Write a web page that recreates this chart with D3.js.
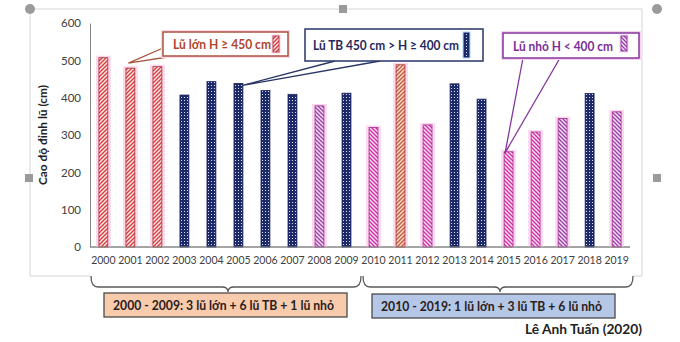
<!DOCTYPE html>
<html><head><meta charset="utf-8">
<script src="https://cdn.jsdelivr.net/npm/d3@7/dist/d3.min.js"></script>
<style>html,body{margin:0;padding:0;background:#fff;}svg{display:block;}</style>
</head><body><svg id="c" width="680" height="342"></svg>
<script>
// ---- data ----
const years = ["2000","2001","2002","2003","2004","2005","2006","2007","2008","2009",
               "2010","2011","2012","2013","2014","2015","2016","2017","2018","2019"];
const peaks = [507,479,483,407,443,438,419,409,378,412,
               320,488,327,437,396,255,308,344,411,362];
const floodClass = ["big","big","big","mid","mid","mid","mid","mid","small","mid",
                    "small","big","small","mid","mid","small","small","small","mid","small"];
const yTicks = [0,100,200,300,400,500,600];
const yTitle = "Cao độ đỉnh lũ (cm)";
const legendTexts = ["Lũ lớn H ≥ 450 cm","Lũ TB 450 cm > H ≥ 400 cm","Lũ nhỏ H < 400 cm"];
const summaryTexts = ["2000 - 2009:  3 lũ lớn + 6 lũ TB + 1 lũ nhỏ","2010 - 2019:  1 lũ lớn + 3 lũ TB + 6 lũ nhỏ"];
const credit = "Lê Anh Tuấn (2020)";

// ---- styles ----
const FONT = "Lato, 'Open Sans', sans-serif";
const svg = d3.select("#c");
const defs = svg.append("defs");
function hatch(id, bg, fg, dir){
  const p = defs.append("pattern").attr("id",id).attr("patternUnits","userSpaceOnUse").attr("width",4).attr("height",4);
  p.append("rect").attr("width",4).attr("height",4).attr("fill",bg);
  p.append("path").attr("d", dir==="/" ? "M-1,1 l2,-2 M0,4 l4,-4 M3,5 l2,-2" : "M-1,3 l2,2 M0,0 l4,4 M3,-1 l2,2")
    .attr("stroke",fg).attr("stroke-width",1.3);
}
hatch("pBig","#fde6e6","#d83a3a","/");
hatch("pBigO","#f9dccc","#c9583a","/");
hatch("pSmall","#fde2f5","#d22aa6","\\");
hatch("pSmallP","#f3e2f6","#9c3aa8","\\");
const pd = defs.append("pattern").attr("id","pMid").attr("patternUnits","userSpaceOnUse").attr("width",3).attr("height",3);
pd.append("rect").attr("width",3).attr("height",3).attr("fill","#1d2a6a");
pd.append("rect").attr("x",1).attr("y",1).attr("width",1).attr("height",1).attr("fill","#d8defa");

const fillOf = (c,yr) => c==="mid" ? "url(#pMid)" : c==="big" ? (yr==="2011"?"url(#pBigO)":"url(#pBig)")
                : (["2008","2017","2019"].includes(yr) ? "url(#pSmallP)" : "url(#pSmall)");
const strokeOf = c => c==="mid" ? "#18205a" : c==="big" ? "#a83030" : "#a52a8c";

// ---- frame (selection box) ----
svg.append("path").attr("d","M90,276 H30 V9 H642 V276 H633").attr("fill","none").attr("stroke","#d4d4d4").attr("stroke-width",1);
[[30,9],[657,9]].forEach(p=>svg.append("circle").attr("cx",p[0]).attr("cy",p[1]).attr("r",5).attr("fill","#9a9a9a"));
[[343,9],[29,178],[657,178]].forEach(p=>svg.append("rect").attr("x",p[0]-4).attr("y",p[1]-4).attr("width",8).attr("height",8).attr("fill","#9a9a9a"));

// ---- scales ----
const x = d3.scaleBand().domain(years).range([90,630]).paddingInner(0.67).paddingOuter(0.33);
const y = d3.scaleLinear().domain([0,600]).range([247,23]);

function squeeze(sel, target){
  const w = sel.node().getComputedTextLength();
  if (w > target) sel.attr("textLength",target).attr("lengthAdjust","spacingAndGlyphs");
  else sel.attr("font-size", parseFloat(sel.attr("font-size"))*Math.min(target/w,1.15));
}

// axes
const yAx = svg.append("g").attr("transform","translate(90,0)")
  .call(d3.axisLeft(y).tickValues(yTicks).tickSize(0).tickPadding(9));
yAx.select(".domain").attr("stroke","#868686");
yAx.selectAll("text").attr("font-family",FONT).attr("font-size",11.5).attr("fill","#404040");
const xAx = svg.append("g").attr("transform","translate(0,247)")
  .call(d3.axisBottom(x).tickSize(0).tickPadding(10));
xAx.select(".domain").attr("stroke","#868686").attr("d","M90,0H630");
xAx.selectAll("text").attr("font-family",FONT).attr("font-size",10.5).attr("fill","#404040");

const yt = svg.append("text").attr("transform","translate(47,135) rotate(-90)").attr("text-anchor","middle")
  .attr("font-family",FONT).attr("font-weight","bold").attr("font-size",12).attr("fill","#222").text(yTitle);
squeeze(yt,100);

// bars
const rows = years.map((yr,i)=>({yr, v:peaks[i], c:floodClass[i]}));
svg.append("g").selectAll("rect").data(rows.filter(d=>d.c!=="mid")).join("rect")
  .attr("x",d=>x(d.yr)-3).attr("width",x.bandwidth()+6)
  .attr("y",d=>y(d.v)-2).attr("height",d=>y(0)-y(d.v)+2).attr("fill","#fcd9f0");
svg.append("g").selectAll("rect").data(rows).join("rect")
  .attr("x",d=>x(d.yr)).attr("width",x.bandwidth())
  .attr("y",d=>y(d.v)).attr("height",d=>y(0)-y(d.v))
  .attr("fill",d=>fillOf(d.c,d.yr)).attr("stroke",d=>strokeOf(d.c)).attr("stroke-width",0.8);
svg.append("line").attr("x1",90).attr("x2",630).attr("y1",247).attr("y2",247).attr("stroke","#868686");

// ---- callouts ----
function callout(o){
  const g = svg.append("g");
  g.append("path").attr("d",`M${o.t1[0]},${o.t1[1]} L${o.tip[0]},${o.tip[1]} L${o.t2[0]},${o.t2[1]}`)
    .attr("fill","none").attr("stroke",o.stroke).attr("stroke-width",1.3);
  if(o.glow) g.append("rect").attr("x",o.x).attr("y",o.y).attr("width",o.w).attr("height",o.h)
    .attr("fill","none").attr("stroke",o.glow).attr("stroke-width",4);
  g.append("rect").attr("x",o.x).attr("y",o.y).attr("width",o.w).attr("height",o.h)
    .attr("fill","#fff").attr("stroke",o.stroke).attr("stroke-width",1.5);
  const t = g.append("text").attr("x",o.tx).attr("y",o.y+o.h/2+5).attr("font-family",FONT)
    .attr("font-weight","bold").attr("font-size",14).attr("fill",o.color).text(o.text);
  squeeze(t,o.tw);
  if(o.swGlow) g.append("rect").attr("x",o.sx-1.5).attr("y",o.sy-1.5).attr("width",o.sw+3).attr("height",o.sh+3).attr("fill",o.swGlow);
  g.append("rect").attr("x",o.sx).attr("y",o.sy).attr("width",o.sw).attr("height",o.sh)
    .attr("fill",o.fill).attr("stroke",o.swStroke).attr("stroke-width",0.8);
}
callout({x:163,y:32,w:125,h:24,stroke:"#a8553c",glow:"#fbd6ec",color:"#b0452e",text:legendTexts[0],tx:173,tw:98,
  sx:273,sy:36,sw:6,sh:16,fill:"url(#pBig)",swStroke:"#a83030",swGlow:"#fcd0ea",
  t1:[163,48],t2:[174,56],tip:[x("2001")+x.bandwidth()/2-2,y(peaks[1])-5]});
callout({x:305,y:29,w:178,h:32,stroke:"#283465",color:"#1f2a5c",text:legendTexts[1],tx:313,tw:146,
  sx:464,sy:33,sw:5,sh:24,fill:"url(#pMid)",swStroke:"#18205a",swGlow:"#a8d2f5",
  t1:[335,61],t2:[380,61],tip:[x("2005")+x.bandwidth()/2+4,y(peaks[5])+2]});
callout({x:503,y:33,w:136,h:25,stroke:"#86359e",glow:"#f6d3ef",color:"#7a2f96",text:legendTexts[2],tx:513,tw:100,
  sx:621,sy:36,sw:6,sh:15,fill:"url(#pSmallP)",swStroke:"#7a2f96",swGlow:"#fad2ef",
  t1:[523,58],t2:[560,58],tip:[x("2015")+1,y(peaks[15])+1]});

// ---- braces & summary boxes ----
function brace(x0,x1,xm){
  const y0=276,y1=287,y2=292;
  svg.append("path").attr("d",`M${x0},${y0} Q${x0},${y1} ${x0+7},${y1} L${xm-6},${y1} Q${xm},${y1} ${xm},${y2} Q${xm},${y1} ${xm+6},${y1} L${x1-7},${y1} Q${x1},${y1} ${x1},${y0}`)
    .attr("fill","none").attr("stroke","#5a5a5a").attr("stroke-width",1.3);
}
brace(x.range()[0]+1, 361, 228);
brace(363, x.range()[1]+3, 500);
function sumBox(bx,by,bw,bh,fill,txt,tw){
  svg.append("rect").attr("x",bx).attr("y",by).attr("width",bw).attr("height",bh)
    .attr("fill",fill).attr("stroke","#4a4a4a").attr("stroke-width",1.3);
  const t = svg.append("text").attr("x",bx+9).attr("y",by+bh/2+5).attr("font-family",FONT)
    .attr("font-weight","bold").attr("font-size",14).attr("fill","#2a2020").text(txt);
  squeeze(t,tw);
}
sumBox(104,293,243,24,"#f8cbad",summaryTexts[0],221);
sumBox(372,294,243,24,"#b4c7e7",summaryTexts[1],221);

const ct = svg.append("text").attr("x",642).attr("y",334).attr("text-anchor","end").attr("font-family",FONT)
  .attr("font-weight","bold").attr("font-size",14).attr("fill","#222").text(credit);
squeeze(ct,117);
</script></body></html>
